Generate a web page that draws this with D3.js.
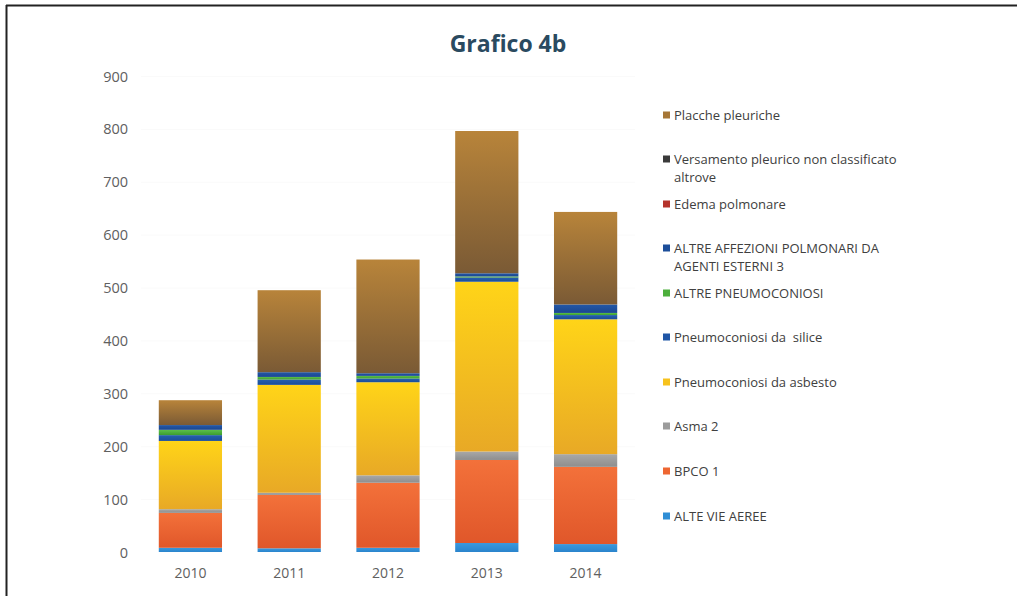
<!DOCTYPE html>
<html><head><meta charset="utf-8">
<script src="https://cdn.jsdelivr.net/npm/d3@7"></script>
<style>html,body{margin:0;padding:0;background:#fff;}svg{display:block;}</style>
</head><body>
<svg id="chart" width="1017" height="596"></svg>
<script>
const years = ["2010","2011","2012","2013","2014"];
const seriesNames = ["ALTE VIE AEREE","BPCO 1","Asma 2","Pneumoconiosi da asbesto","Pneumoconiosi da  silice","ALTRE PNEUMOCONIOSI","ALTRE AFFEZIONI POLMONARI DA AGENTI ESTERNI 3","Edema polmonare","Versamento pleurico non classificato altrove","Placche pleuriche"];
const alteVieAeree   = [8, 7, 8, 17, 15];
const bpco1          = [66, 101, 123, 157, 146];
const asma2          = [7, 4, 14, 16, 24];
const asbesto        = [129, 204, 176, 321, 255];
const silice         = [11, 10, 7, 8, 8];
const altrePneumo    = [10, 5, 5, 2, 4];
const altreAffezioni = [9, 9, 5, 6, 16];
const edema          = [0, 0, 0, 0, 0];
const versamento     = [0, 0, 0, 0, 0];
const placche        = [47, 155, 215, 269, 175];
const yTicks = [0,100,200,300,400,500,600,700,800,900];
const legendLines = [["Placche pleuriche"],["Versamento pleurico non classificato","altrove"],["Edema polmonare"],["ALTRE AFFEZIONI POLMONARI DA","AGENTI ESTERNI 3"],["ALTRE PNEUMOCONIOSI"],["Pneumoconiosi da  silice"],["Pneumoconiosi da asbesto"],["Asma 2"],["BPCO 1"],["ALTE VIE AEREE"]];

const seriesValues = [alteVieAeree,bpco1,asma2,asbesto,silice,altrePneumo,altreAffezioni,edema,versamento,placche];
const colors = ["#2f8ed6","#ee6631","#9c9c9c","#f7c21c","#1f56a6","#4caf3c","#1d4e9a","#b5332b","#3a3a3a","#a67636"];
const gradTop = ["#3a99de","#f3713a","#a8a8a8","#ffd418","#2660b0","#5cc04a","#2358a8","#c03a30","#444","#b8843a"];
const gradBot = ["#2a84cc","#e0572a","#8e8e8e","#e8a926","#1a4d98","#3c9c30","#1a4690","#a02a24","#2f2f2f","#7a5a35"];

const svg = d3.select("#chart");
const defs = svg.append("defs");
colors.forEach((c,i)=>{
  const g = defs.append("linearGradient").attr("id","g"+i).attr("x1",0).attr("y1",0).attr("x2",0).attr("y2",1);
  g.append("stop").attr("offset","0%").attr("stop-color",gradTop[i]);
  g.append("stop").attr("offset","100%").attr("stop-color",gradBot[i]);
});

// frame
svg.append("line").attr("x1",6).attr("x2",1017).attr("y1",5.5).attr("y2",5.5).attr("stroke","#222").attr("stroke-width",2);
svg.append("line").attr("x1",6.5).attr("x2",6.5).attr("y1",5).attr("y2",596).attr("stroke","#222").attr("stroke-width",2);

const x = d3.scaleBand().domain(years).range([141,635]).paddingInner(0.36).paddingOuter(0.18);
const y = d3.scaleLinear().domain([0,900]).range([552,76]);

// very faint gridlines
svg.append("g").selectAll("line").data(yTicks.slice(1)).join("line")
  .attr("x1",141).attr("x2",635).attr("y1",d=>y(d)+0.5).attr("y2",d=>y(d)+0.5)
  .attr("stroke","#fafafa").attr("stroke-width",1);

const table = years.map((yr,i)=>{const o={year:yr}; seriesNames.forEach((s,k)=>o[s]=seriesValues[k][i]); return o;});
const stacked = d3.stack().keys(seriesNames)(table);

svg.append("g").selectAll("g").data(stacked).join("g")
  .attr("fill",(d,i)=>"url(#g"+i+")")
  .selectAll("rect").data(d=>d).join("rect")
  .attr("x",d=>x(d.data.year)).attr("width",x.bandwidth())
  .attr("y",d=>y(d[1])).attr("height",d=>Math.max(0,y(d[0])-y(d[1])));

// y axis
const yAxis = d3.axisLeft(y).tickValues(yTicks).tickSize(0).tickPadding(0);
const ya = svg.append("g").attr("transform","translate(128,0)").call(yAxis);
ya.select(".domain").remove();
ya.selectAll("text").attr("font-family","Open Sans").attr("font-size",14.5).attr("fill","#606060").attr("dy","0.35em");

// x axis
const xAxis = d3.axisBottom(x).tickSize(0).tickPadding(0);
const xa = svg.append("g").attr("transform","translate(0,573)").call(xAxis);
xa.select(".domain").remove();
xa.selectAll("text").attr("font-family","Open Sans").attr("font-size",14).attr("fill","#606060").attr("dy","0.35em");

// title
svg.append("text").attr("x",508).attr("y",52).attr("text-anchor","middle")
  .attr("font-family","Open Sans").attr("font-weight","bold").attr("font-size",23).attr("fill","#2a4a60")
  .text("Grafico 4b");

// legend
const legendY = [115,159,204,248,293,337,382,426,471,516];
const lg = svg.append("g");
legendLines.forEach((lines,j)=>{
  const si = seriesNames.length-1-j;
  const cy = legendY[j];
  lg.append("rect").attr("x",663).attr("y",cy-3.5).attr("width",7).attr("height",7).attr("fill",colors[si]);
  lines.forEach((t,k)=>{
    lg.append("text").attr("x",674).attr("y",cy+k*18).attr("dy","0.35em")
      .attr("font-family","Open Sans").attr("font-size",13).attr("fill","#404040")
      .style("white-space","pre").text(t);
  });
});
</script>
</body></html>
